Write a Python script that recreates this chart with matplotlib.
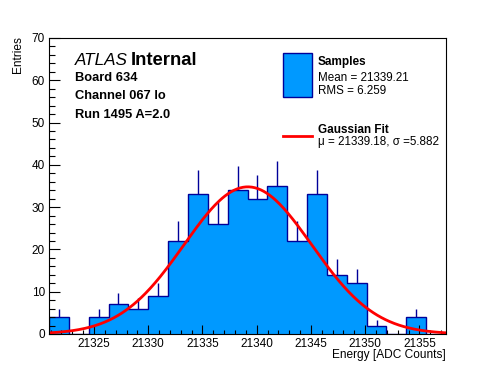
import numpy as np
import matplotlib
matplotlib.use("Agg")
import matplotlib.pyplot as plt
import matplotlib.patches as mpatches
from matplotlib.lines import Line2D
from matplotlib.ticker import MultipleLocator, FormatStrFormatter

plt.rcParams["font.family"] = ["Liberation Sans", "DejaVu Sans"]

# histogram
bin_lo, bin_hi = 21320.85, 21357.45
counts = [4, 0, 4, 7, 6, 9, 22, 33, 26, 34, 32, 35, 22, 33, 14, 12, 2, 0, 4, 0]

# fit parameters
fit_mu, fit_sigma, fit_amp = 21339.18, 5.882, 34.8

FILL = "#0099ff"
EDGE = "#000099"
W, H = 496, 372


def fx(px):
    return px / W


def fy(py):
    return 1 - py / H


counts = np.array(counts, dtype=float)
edges = np.linspace(bin_lo, bin_hi, len(counts) + 1)
centers = 0.5 * (edges[:-1] + edges[1:])

fig = plt.figure(figsize=(4.96, 3.72), dpi=100)
ax = fig.add_axes([fx(49), fy(334), fx(446) - fx(49), fy(38) - fy(334)])

ax.stairs(counts, edges, fill=True, color=FILL, lw=0)
ax.stairs(counts, edges, color=EDGE, lw=1.0, baseline=0)
nz = counts > 0
ax.vlines(centers[nz], counts[nz], counts[nz] + np.sqrt(counts[nz]),
          color=EDGE, lw=1.0)

xs = np.linspace(bin_lo, bin_hi, 400)
ax.plot(xs, fit_amp * np.exp(-0.5 * ((xs - fit_mu) / fit_sigma) ** 2),
        color="#ff0000", lw=2.0)

ax.set_xlim(bin_lo, bin_hi)
ax.set_ylim(0, 70)
ax.xaxis.set_major_locator(MultipleLocator(5))
ax.xaxis.set_minor_locator(MultipleLocator(1))
ax.yaxis.set_major_locator(MultipleLocator(10))
ax.yaxis.set_minor_locator(MultipleLocator(2))
ax.tick_params(which="both", direction="in", top=False, right=False,
               labelsize=8.5, width=0.8, pad=3)
ax.tick_params(axis="x", which="major", length=6.4)
ax.tick_params(axis="x", which="minor", length=3.2)
ax.tick_params(axis="y", which="major", length=8)
ax.tick_params(axis="y", which="minor", length=4)
ax.xaxis.set_major_formatter(FormatStrFormatter("%d"))
for s in ax.spines.values():
    s.set_linewidth(0.8)

fig.text(fx(446), fy(358), "Energy [ADC Counts]", ha="right", va="baseline",
         fontsize=8.6)
fig.text(fx(18), fy(36), "Entries", rotation=90, ha="center", va="top",
         fontsize=8.6)

# labels in the upper left
fig.text(fx(75), fy(65), "ATLAS", style="italic", fontsize=12.3, va="baseline")
fig.text(fx(131), fy(65), "Internal", weight="bold", fontsize=13.3,
         va="baseline")
for yy, s in [(81, "Board 634"), (99, "Channel 067 lo"), (118, "Run 1495 A=2.0")]:
    fig.text(fx(75), fy(yy), s, weight="bold", fontsize=9.3, va="baseline")

# legend
fig.patches.append(mpatches.Rectangle((fx(283), fy(97)), fx(312) - fx(283),
                                      fy(53) - fy(97), transform=fig.transFigure,
                                      facecolor=FILL, edgecolor=EDGE, lw=1.0))
fig.lines.append(Line2D([fx(283), fx(312)], [fy(136), fy(136)],
                        transform=fig.transFigure, color="#ff0000", lw=2.0))
fig.text(fx(318), fy(65), "Samples", weight="bold", fontsize=8.5, va="baseline")
fig.text(fx(318), fy(81), "Mean = 21339.21", fontsize=8.4, va="baseline")
fig.text(fx(318), fy(94), "RMS = 6.259", fontsize=8.4, va="baseline")
fig.text(fx(318), fy(133), "Gaussian Fit", weight="bold", fontsize=8.5,
         va="baseline")
fig.text(fx(318), fy(145), "\u03bc = 21339.18, \u03c3 =5.882", fontsize=8.4,
         va="baseline")

fig.savefig("out.png", dpi=100)
